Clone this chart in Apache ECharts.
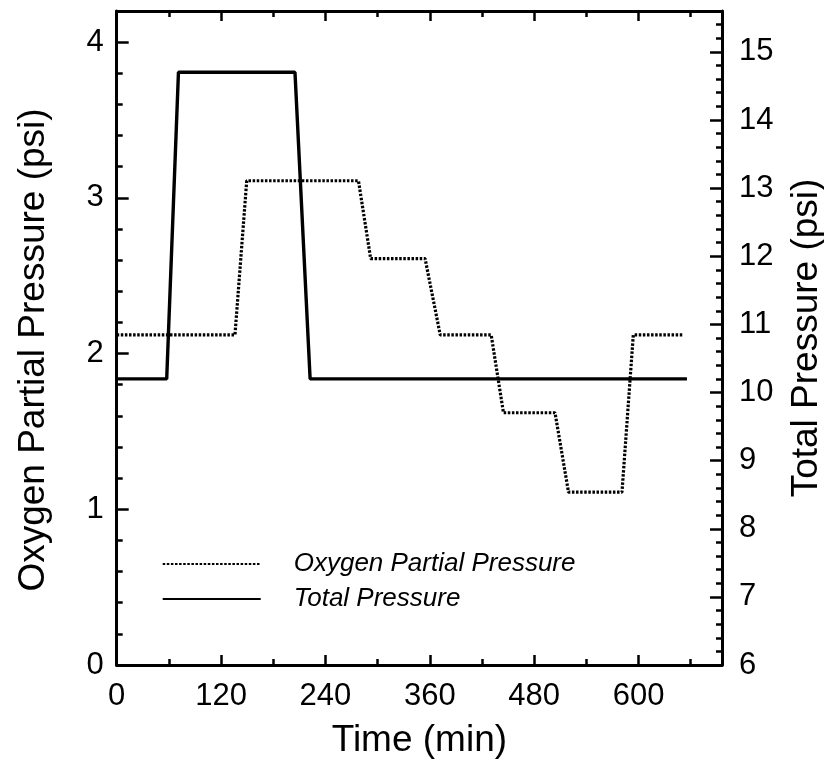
<!DOCTYPE html>
<html>
<head>
<meta charset="utf-8">
<script src="https://cdn.jsdelivr.net/npm/echarts@6/dist/echarts.min.js"></script>
<style>
html,body{margin:0;padding:0;background:#fff;}
#chart{width:824px;height:761px;}
</style>
</head>
<body>
<div id="chart"></div>
<script>
// ---- data ----
var seriesNames = ['Oxygen Partial Pressure', 'Total Pressure'];
var o2Times  = [0, 136, 149.5, 278, 292, 354.6, 372, 430.6, 444.7, 504, 519.5, 581, 594, 652];
var o2Values = [2.12, 2.12, 3.11, 3.11, 2.61, 2.61, 2.12, 2.12, 1.62, 1.62, 1.11, 1.11, 2.12, 2.12];
var totalTimes  = [0, 57.5, 71, 205, 222.4, 655.7];
var totalValues = [10.2, 10.2, 14.7, 14.7, 10.2, 10.2];
var xTickLabels = [0, 120, 240, 360, 480, 600];
var leftTickLabels = [0, 1, 2, 3, 4];
var rightTickLabels = [6, 7, 8, 9, 10, 11, 12, 13, 14, 15];

function pairs(xs, ys) { return xs.map(function (x, i) { return [x, ys[i]]; }); }

var FONT = '"Liberation Sans", Arial, Helvetica, sans-serif';
var X_MAX = 696, L_MAX = 4.2, R_MIN = 6, R_MAX = 15.6;

function inList(list, v) {
  for (var i = 0; i < list.length; i++) { if (Math.abs(list[i] - v) < 1e-6) return true; }
  return false;
}

var chart = echarts.init(document.getElementById('chart'), null, {renderer: 'canvas'});
var hidden = {show: false};
var shownLine = {show: true, onZero: false, lineStyle: {color: '#000', width: 3}};
var hiddenLine = {show: false, onZero: false};
function tick(len) { return {show: true, inside: true, length: len, lineStyle: {color: '#000', width: 2.5}}; }

var option = {
  animation: false,
  backgroundColor: '#fff',
  grid: {left: 116.7, right: 102, top: 11, bottom: 96, containLabel: false, outerBoundsMode: 'none'},
  legend: {
    orient: 'vertical',
    left: 156.7,
    top: 546,
    itemWidth: 98,
    itemHeight: 14,
    itemGap: 9,
    data: seriesNames,
    itemStyle: {opacity: 0},
    textStyle: {fontFamily: FONT, fontSize: 26, fontStyle: 'italic', color: '#000', lineHeight: 26, padding: [0, 0, 0, 28]}
  },
  xAxis: [
    {type: 'value', position: 'bottom', min: 0, max: X_MAX, interval: 120,
     name: 'Time (min)', nameLocation: 'middle', nameGap: 57,
     nameTextStyle: {fontFamily: FONT, fontSize: 37, color: '#000'},
     axisLine: shownLine,
     axisTick: tick(10),
     axisLabel: {show: true, margin: 16, fontFamily: FONT, fontSize: 31, color: '#000',
       formatter: function (v) { return inList(xTickLabels, v) ? String(v) : ''; }},
     splitLine: hidden},
    {type: 'value', position: 'bottom', min: 0, max: X_MAX, interval: 60,
     axisLine: hiddenLine, axisLabel: hidden, splitLine: hidden, axisTick: tick(6)},
    {type: 'value', position: 'top', min: 0, max: X_MAX, interval: 60,
     axisLine: shownLine, axisLabel: hidden, splitLine: hidden, axisTick: tick(6)},
    {type: 'value', position: 'top', min: 0, max: X_MAX, interval: 120,
     axisLine: hiddenLine, axisLabel: hidden, splitLine: hidden, axisTick: tick(10)}
  ],
  yAxis: [
    {type: 'value', position: 'left', min: 0, max: L_MAX, interval: 1,
     name: 'Oxygen Partial Pressure (psi)', nameLocation: 'middle', nameGap: 64, nameRotate: 90,
     nameTextStyle: {fontFamily: FONT, fontSize: 37, color: '#000', padding: [0, 24, 0, 0]},
     axisLine: shownLine,
     axisTick: tick(12),
     axisLabel: {show: true, margin: 13, fontFamily: FONT, fontSize: 31, color: '#000',
       formatter: function (v) { return inList(leftTickLabels, v) ? String(v) : ''; }},
     splitLine: hidden},
    {type: 'value', position: 'left', min: 0, max: L_MAX, interval: 0.2,
     axisLine: hiddenLine, axisLabel: hidden, splitLine: hidden, axisTick: tick(6)},
    {type: 'value', position: 'right', min: R_MIN, max: R_MAX, interval: 1,
     name: 'Total Pressure (psi)', nameLocation: 'middle', nameGap: 66, nameRotate: 90,
     nameTextStyle: {fontFamily: FONT, fontSize: 37, color: '#000'},
     axisLine: shownLine,
     axisTick: tick(12),
     axisLabel: {show: true, margin: 17, fontFamily: FONT, fontSize: 31, color: '#000',
       formatter: function (v) { return inList(rightTickLabels, v) ? String(v) : ''; }},
     splitLine: hidden},
    {type: 'value', position: 'right', min: R_MIN, max: R_MAX, interval: 0.2,
     axisLine: hiddenLine, axisLabel: hidden, splitLine: hidden, axisTick: tick(6)}
  ],
  series: [
    {name: seriesNames[0], type: 'line', xAxisIndex: 0, yAxisIndex: 0,
     data: pairs(o2Times, o2Values), symbol: 'none', silent: true,
     itemStyle: {color: '#000'},
     lineStyle: {color: '#000', width: 3.2, type: [2.5, 1.6]}},
    {name: seriesNames[1], type: 'line', xAxisIndex: 0, yAxisIndex: 2,
     data: pairs(totalTimes, totalValues), symbol: 'none', silent: true,
     itemStyle: {color: '#000'},
     lineStyle: {color: '#000', width: 3.4, type: 'solid'}}
  ]
};
chart.setOption(option);
</script>
</body>
</html>
